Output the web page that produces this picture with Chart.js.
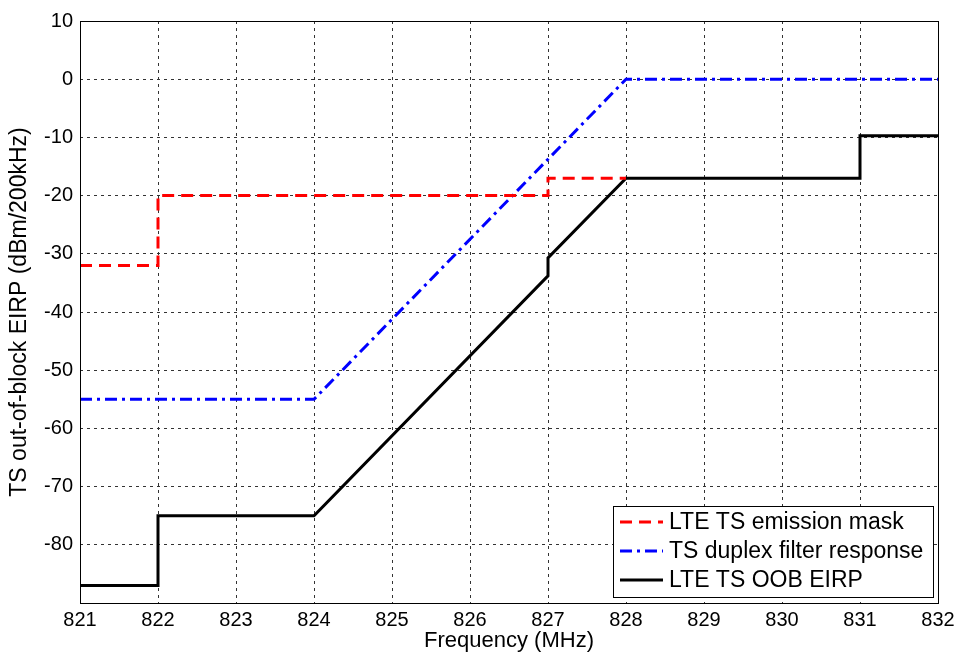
<!DOCTYPE html>
<html lang="en">
<head>
    <meta charset="UTF-8">
    <title>LTE TS OOB EIRP</title>
    <script src="https://cdn.jsdelivr.net/npm/chart.js"></script>
    <style>
        html, body { margin: 0; padding: 0; background: #fff; }
        #wrap { width: 960px; height: 657px; }
    </style>
</head>
<body>
    <div id="wrap"><canvas id="oobChart" width="960" height="657"></canvas></div>
    <script>
        // Series data (MHz / dBm per 200 kHz)
        const maskFreq = [821, 822, 822, 827, 827, 828];
        const maskLevel = [-32, -32, -20, -20, -17, -17];

        const filterFreq = [821, 824, 828, 832];
        const filterLevel = [-55, -55, 0, 0];

        const eirpFreq = [821, 822, 822, 824, 827, 827, 828, 831, 831, 832];
        const eirpLevel = [-87, -87, -75, -75, -33.8, -30.7, -17, -17, -9.7, -9.7];

        const xTicks = [821, 822, 823, 824, 825, 826, 827, 828, 829, 830, 831, 832];
        const yTicks = [-90, -80, -70, -60, -50, -40, -30, -20, -10, 0, 10];

        const seriesNames = ['LTE TS emission mask', 'TS duplex filter response', 'LTE TS OOB EIRP'];

        const pts = (xs, ys) => xs.map((x, i) => ({ x: x, y: ys[i] }));
        const FONT = 'Liberation Sans, Arial, sans-serif';

        // frame round the plot area + legend box inside it
        const framePlugin = {
            id: 'frame',
            afterDraw(chart) {
                const ctx = chart.ctx;
                const a = chart.chartArea;
                ctx.save();
                ctx.strokeStyle = '#000';
                ctx.lineWidth = 1;
                ctx.setLineDash([]);
                ctx.strokeRect(a.left + 0.5, a.top + 0.5, a.right - a.left, a.bottom - a.top);

                // legend
                const bx = 613, by = 506, bw = 320, bh = 91;
                ctx.fillStyle = '#fff';
                ctx.fillRect(bx, by, bw, bh);
                ctx.strokeRect(bx + 0.5, by + 0.5, bw, bh);
                ctx.font = '23px ' + FONT;
                ctx.textBaseline = 'middle';
                chart.data.datasets.forEach((ds, i) => {
                    const y = by + 16 + i * 29;
                    ctx.strokeStyle = ds.borderColor;
                    ctx.lineWidth = ds.borderWidth;
                    ctx.setLineDash(ds.borderDash || []);
                    ctx.beginPath();
                    ctx.moveTo(620, y);
                    ctx.lineTo(663, y);
                    ctx.stroke();
                    ctx.fillStyle = '#000';
                    ctx.fillText(ds.label, 669, y + 1);
                });
                ctx.restore();
            }
        };

        const ctx = document.getElementById('oobChart').getContext('2d');
        const oobChart = new Chart(ctx, {
            type: 'line',
            data: {
                datasets: [{
                    label: seriesNames[0],
                    data: pts(maskFreq, maskLevel),
                    borderColor: '#ff0000',
                    borderWidth: 3,
                    borderDash: [12, 7]
                }, {
                    label: seriesNames[1],
                    data: pts(filterFreq, filterLevel),
                    borderColor: '#0000ff',
                    borderWidth: 3,
                    borderDash: [12, 5, 3, 5]
                }, {
                    label: seriesNames[2],
                    data: pts(eirpFreq, eirpLevel),
                    borderColor: '#000000',
                    borderWidth: 3
                }]
            },
            options: {
                responsive: false,
                animation: false,
                parsing: false,
                elements: { point: { radius: 0 }, line: { tension: 0 } },
                layout: { padding: { left: 6, top: 21, right: 22, bottom: 0 } },
                plugins: { legend: { display: false }, tooltip: { enabled: false } },
                scales: {
                    x: {
                        type: 'linear',
                        min: 821,
                        max: 832,
                        afterBuildTicks: s => { s.ticks = xTicks.map(v => ({ value: v })); },
                        afterFit: s => { s.height = 54; },
                        ticks: { color: '#000', font: { family: FONT, size: 20 }, padding: 5, maxRotation: 0 },
                        grid: { color: '#333', drawTicks: false, lineWidth: 1 },
                        border: { display: false, dash: [3, 4] },
                        title: {
                            display: true, text: 'Frequency (MHz)', color: '#000',
                            font: { family: FONT, size: 22 }, padding: { top: 0, bottom: 3 }
                        }
                    },
                    y: {
                        min: -90,
                        max: 10,
                        afterBuildTicks: s => { s.ticks = yTicks.map(v => ({ value: v })); },
                        afterFit: s => { s.width = 74; },
                        ticks: {
                            color: '#000', font: { family: FONT, size: 20 }, padding: 7,
                            callback: v => (v === -90 ? '' : v)
                        },
                        grid: { color: '#333', drawTicks: false, lineWidth: 1 },
                        border: { display: false, dash: [3, 4] },
                        title: {
                            display: true, text: 'TS out-of-block EIRP (dBm/200kHz)', color: '#000',
                            font: { family: FONT, size: 23 }, padding: { top: 0, bottom: 0 }
                        }
                    }
                }
            },
            plugins: [framePlugin]
        });
    </script>
</body>
</html>
